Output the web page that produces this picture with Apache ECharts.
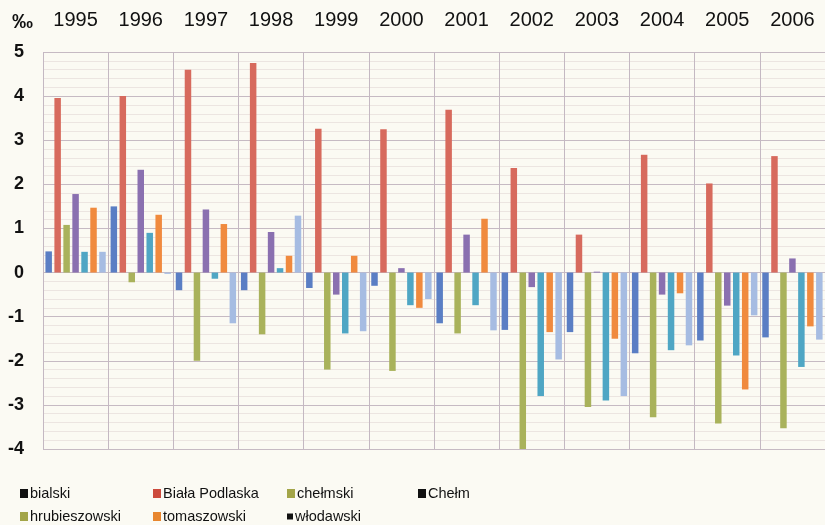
<!DOCTYPE html>
<html>
<head>
<meta charset="utf-8">
<script src="https://cdn.jsdelivr.net/npm/echarts@6/dist/echarts.min.js"></script>
<style>
html,body{margin:0;padding:0;background:#fbfaf3;}
#c{width:825px;height:525px;}
</style>
</head>
<body>
<div id="c"></div>
<script>
var years = ['1995','1996','1997','1998','1999','2000','2001','2002','2003','2004','2005','2006'];
var yTicks = [-4,-3,-2,-1,0,1,2,3,4,5];
var seriesNames = ['bialski','Biała Podlaska','chełmski','Chełm','hrubieszowski','tomaszowski','włodawski'];
var bialski       = [0.48, 1.50, -0.40, -0.40, -0.35, -0.30, -1.15, -1.30, -1.35, -1.83, -1.54, -1.47];
var bialaPodlaska = [3.96, 4.00,  4.60,  4.75,  3.26,  3.25,  3.69,  2.37,  0.86,  2.67,  2.02,  2.64];
var chelmski      = [1.08, -0.22, -2.00, -1.40, -2.20, -2.23, -1.38, -4.00, -3.05, -3.28, -3.42, -3.53];
var chelm         = [1.78, 2.33,  1.43,  0.92, -0.50,  0.10,  0.86, -0.33,  0.02, -0.50, -0.75,  0.32];
var hrubieszowski = [0.47, 0.90, -0.14,  0.10, -1.38, -0.74, -0.74, -2.80, -2.90, -1.76, -1.88, -2.14];
var tomaszowski   = [1.47, 1.31,  1.10,  0.38,  0.38, -0.80,  1.22, -1.35, -1.50, -0.47, -2.65, -1.22];
var wlodawski     = [0.47, -0.03, -1.15, 1.29, -1.33, -0.60, -1.31, -1.97, -2.80, -1.65, -0.97, -1.52];

var values = [bialski, bialaPodlaska, chelmski, chelm, hrubieszowski, tomaszowski, wlodawski];
var barColors = ['#5a7ec4','#d76a5d','#a9b25b','#8a70b0','#4fa6c4','#f08a3e','#a6bce2'];
var legendColors = ['#111111','#cc4a3c','#a3a548','#111111','#a3a548','#e8862e','#111111'];
var legendPos = [[20,486],[153,486],[287,486],[418,486],[20,509],[153,509],[287,509]];

var chart = echarts.init(document.getElementById('c'));
var series = seriesNames.map(function(n,i){
  return {
    name:n, type:'bar', data: values[i],
    barWidth: 6.5, barGap:'38%',
    itemStyle:{color:barColors[i]},
    emphasis:{disabled:true}
  };
});
var legends = seriesNames.map(function(n,i){
  return {
    left: legendPos[i][0], top: legendPos[i][1], padding:0,
    itemWidth: i===6?6:8, itemHeight: i===6?6:9, icon:'rect',
    selectedMode:false,
    data:[{name:n, itemStyle:{color:legendColors[i]}}],
    textStyle:{fontFamily:'"Liberation Sans Narrow","Liberation Sans",Arial,sans-serif', fontSize:14.5, color:'#111', padding:[0,0,0,-3]}
  };
});
chart.setOption({
  backgroundColor:'#fbfaf3',
  animation:false,
  grid:{left:43, right:-3, top:52, bottom:76},
  graphic:[{type:'text', left:12, top:12, style:{text:'‰', font:'bold 21px "Liberation Sans", Arial, sans-serif', fill:'#111'}}],
  legend: legends,
  xAxis:{
    type:'category', data:years, position:'top',
    axisLine:{show:false, onZero:false}, axisTick:{show:false},
    axisLabel:{margin:22, fontSize:20, color:'#111', fontFamily:'"Liberation Sans", Arial, sans-serif'},
    splitLine:{show:true, lineStyle:{color:'#c4b8c2', width:1}}
  },
  yAxis:{
    type:'value', min:yTicks[0], max:yTicks[yTicks.length-1], interval:1,
    axisLine:{show:false}, axisTick:{show:false},
    axisLabel:{margin:19, fontSize:18, fontWeight:'bold', color:'#111', fontFamily:'"Liberation Sans", Arial, sans-serif'},
    splitLine:{show:true, lineStyle:{color:'#c6bac3', width:1}},
    minorTick:{show:false, splitNumber:5},
    minorSplitLine:{show:true, lineStyle:{color:'#ece5e1', width:1}}
  },
  series: series
});
</script>
</body>
</html>
